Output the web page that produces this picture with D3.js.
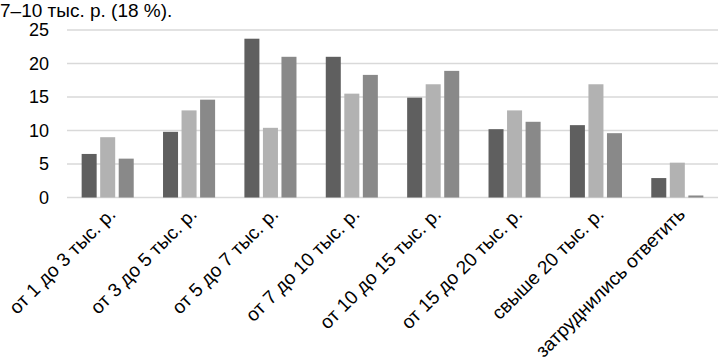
<!DOCTYPE html>
<html>
<head>
<meta charset="utf-8">
<script src="https://cdn.jsdelivr.net/npm/d3@7"></script>
<style>
  body { margin: 0; background: #fff; }
  svg { display: block; font-family: "Liberation Sans", Arial, sans-serif; }
</style>
</head>
<body>
<svg id="chart"></svg>
<script>
const categories = [
    'от 1 до 3 тыс. р.', 'от 3 до 5 тыс. р.', 'от 5 до 7 тыс. р.', 'от 7 до 10 тыс. р.',
    'от 10 до 15 тыс. р.', 'от 15 до 20 тыс. р.', 'свыше 20 тыс. р.', 'затруднились ответить'
];
const series1 = [6.5, 9.8, 23.7, 21.0, 14.9, 10.2, 10.8, 2.9];
const series2 = [9.0, 13.0, 10.4, 15.5, 16.9, 13.0, 16.9, 5.2];
const series3 = [5.8, 14.6, 21.0, 18.3, 18.9, 11.3, 9.6, 0.3];
const yTicks = [0, 5, 10, 15, 20, 25];
const titleText = '7–10 тыс. р. (18 %).';

const colors = ['#5f5f5f', '#b2b2b2', '#898989'];
const width = 719;
const height = 363;
const plotLeft = 67, plotRight = 718, plotTop = 30, plotBottom = 197.5;
const fontSize = 19;

const svg = d3.select('#chart')
    .attr('width', width)
    .attr('height', height);

const x0 = d3.scaleBand()
    .domain(categories)
    .range([plotLeft, plotRight])
    .paddingInner(0.36)
    .paddingOuter(0.18);

const x1 = d3.scaleBand()
    .domain([0, 1, 2])
    .range([0, x0.bandwidth()])
    .paddingInner(0.19);

const y = d3.scaleLinear()
    .domain([0, 25])
    .range([plotBottom, plotTop]);

// title line from the document text above the chart
svg.append('text')
    .attr('x', 0)
    .attr('y', 16.5)
    .attr('font-size', fontSize)
    .attr('fill', '#000')
    .text(titleText);

// gridlines
svg.append('g')
    .selectAll('line')
    .data(yTicks)
    .join('line')
    .attr('x1', plotLeft)
    .attr('x2', plotRight)
    .attr('y1', d => y(d))
    .attr('y2', d => y(d))
    .attr('stroke', '#d9d9d9')
    .attr('stroke-width', 1.5);

// y axis labels
const yAxis = svg.append('g')
    .attr('transform', `translate(${plotLeft - 18},0)`)
    .call(d3.axisLeft(y).tickValues(yTicks).tickSize(0).tickPadding(0));
yAxis.select('.domain').remove();
yAxis.selectAll('text')
    .attr('font-size', 18)
    .attr('font-family', '"Liberation Sans", Arial, sans-serif')
    .attr('fill', '#000');

// bars
const data = categories.map((c, i) => ({
    cat: c,
    values: [series1[i], series2[i], series3[i]]
}));

svg.append('g')
    .selectAll('g')
    .data(data)
    .join('g')
    .attr('transform', d => `translate(${x0(d.cat)},0)`)
    .selectAll('rect')
    .data(d => d.values.map((v, k) => ({k, v})))
    .join('rect')
    .attr('x', d => x1(d.k))
    .attr('width', x1.bandwidth())
    .attr('y', d => y(d.v))
    .attr('height', d => y(0) - y(d.v))
    .attr('fill', d => colors[d.k]);

// category labels
const xAxis = svg.append('g')
    .attr('transform', `translate(0,${plotBottom})`)
    .call(d3.axisBottom(x0).tickSize(0).tickPadding(0));
xAxis.select('.domain').remove();
xAxis.selectAll('text')
    .attr('font-size', fontSize)
    .attr('font-family', '"Liberation Sans", Arial, sans-serif')
    .attr('fill', '#000')
    .attr('text-anchor', 'end')
    .attr('dy', 0)
    .attr('transform', 'translate(9,18) rotate(-45)');
</script>
</body>
</html>
